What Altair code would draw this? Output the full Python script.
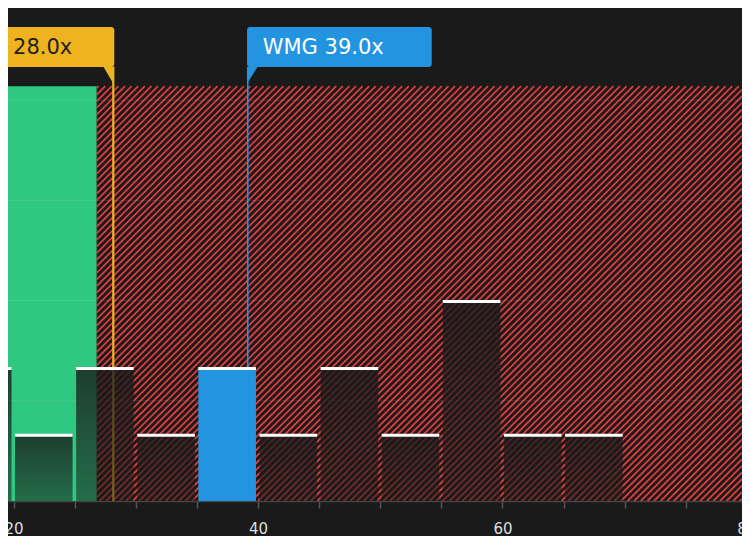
import altair as alt
import pandas as pd

# ---------------- data ----------------
bin_start = [15, 20, 25, 30, 35, 40, 45, 50, 55, 60, 65]
bin_end = [20, 25, 30, 35, 40, 45, 50, 55, 60, 65, 70]
counts = [2, 1, 2, 1, 2, 1, 2, 1, 3, 1, 1]
highlight_bin = 35

region_start = [0.0, 26.8]
region_end = [26.8, 79.6]
region_kind = ["fair", "over"]
region_top = 6.21

grid_values = [1.5, 3.0, 4.5, 6.0]
x_tick_values = [20, 25, 30, 35, 40, 45, 50, 55, 60, 65, 70, 75]
x_edge_label = [80]

marker_names = ["Industry Avg.", "WMG"]
marker_values = [28.0, 39.0]
marker_text = ["Industry Avg. 28.0x", "WMG 39.0x"]

# ---------------- styling ----------------
BG = "#1a1a1a"
GREEN = "#2ec880"
RED = "#dc3d3d"
ORANGE = "#efb31f"
BLUE = "#2394e0"
FONT = "DejaVu Sans"

W, H = 734, 493
X_DOMAIN = [19.55, 79.6]
Y_DOMAIN = [0, 7.38]

xs = alt.Scale(domain=X_DOMAIN, nice=False, zero=False)
ys = alt.Scale(domain=Y_DOMAIN, nice=False, zero=True)
xaxis = alt.Axis(
    values=x_tick_values,
    labelExpr="datum.value % 20 == 0 ? datum.label : ''",
    title=None, grid=False, domainColor="#444444", domainWidth=1.5,
    tickColor="#555555", tickSize=7, tickWidth=1.5, labelPadding=13,
    labelColor="#dddddd", labelFontSize=15, labelFont=FONT,
    labelOverlap=False, labelFlush=False,
)


def X(field):
    return alt.X(field, scale=xs, axis=xaxis, title=None)


def Y(field):
    return alt.Y(field, scale=ys, axis=None, title=None)


# diagonal hatch strokes over the "overvalued" region (decoration, 45 degrees on screen)
px_x = W / (X_DOMAIN[1] - X_DOMAIN[0])
px_y = H / (Y_DOMAIN[1] - Y_DOMAIN[0])
hx0, hx1 = region_start[1], region_end[1]
hw = (hx1 - hx0) * px_x
hh = region_top * px_y
period = 6.6
rows = []
c = 2.0
while c < hw + hh:
    v_a = max(0.0, c - hw)   # top / right end
    u_a = c - v_a
    u_b = max(0.0, c - hh)   # bottom / left end
    v_b = c - u_b
    rows.append({
        "xa": hx0 + u_a / px_x, "ya": region_top - v_a / px_y,
        "xb": hx0 + u_b / px_x, "yb": region_top - v_b / px_y,
    })
    c += period
hatch = pd.DataFrame(rows)

bar_fill = {
    "gradient": "linear", "x1": 0, "y1": 0, "x2": 0, "y2": 1,
    "stops": [
        {"offset": 0, "color": "rgba(26,26,26,0.80)"},
        {"offset": 1, "color": "rgba(26,26,26,0.52)"},
    ],
}

# ---------------- tables ----------------
regions = pd.DataFrame({"start": region_start, "end": region_end,
                        "kind": region_kind, "top": [region_top] * 2})
bars = pd.DataFrame({"start": bin_start, "end": bin_end, "count": counts})
bars["hl"] = bars["start"] == highlight_bin
grid = pd.DataFrame({"g": grid_values})
markers = pd.DataFrame({"name": marker_names, "v": marker_values, "label": marker_text})
edge = pd.DataFrame({"v": x_edge_label})

mcolor = alt.Color("name:N", scale=alt.Scale(domain=marker_names, range=[ORANGE, BLUE]), legend=None)

green = alt.Chart(regions).transform_filter("datum.kind == 'fair'").mark_rect(
    fill=GREEN, clip=True
).encode(x=X("start:Q"), x2="end", y=Y("top:Q"), y2=alt.datum(0))

red = alt.Chart(hatch).mark_rule(color=RED, strokeWidth=1.8, clip=True).encode(
    x=X("xa:Q"), x2="xb", y=Y("ya:Q"), y2="yb"
)

gridlines = alt.Chart(grid).mark_rule(color="#ffffff", opacity=0.1, strokeWidth=1).encode(y=Y("g:Q"))

vlines = alt.Chart(markers).mark_rule(xOffset=2, clip=True).encode(
    x=X("v:Q"), y=alt.value(59), y2=alt.value(H), color=mcolor,
    strokeWidth=alt.StrokeWidth("name:N", scale=alt.Scale(domain=marker_names, range=[2.2, 1.6]), legend=None),
)

dark_bars = alt.Chart(bars).transform_filter("!datum.hl").mark_rect(
    fill=bar_fill, xOffset=1.5, x2Offset=-2, clip=True
).encode(x=X("start:Q"), x2="end", y=Y("count:Q"), y2=alt.datum(0))

blue_bar = alt.Chart(bars).transform_filter("datum.hl").mark_rect(
    fill=BLUE, xOffset=1.5, x2Offset=-2, clip=True
).encode(x=X("start:Q"), x2="end", y=Y("count:Q"), y2=alt.datum(0))

caps = alt.Chart(bars).mark_rule(
    color="#ffffff", strokeWidth=3, xOffset=1.5, x2Offset=-2, yOffset=1, clip=True
).encode(x=X("start:Q"), x2="end", y=Y("count:Q"))

orange_box = alt.Chart(markers).transform_filter("datum.name == 'Industry Avg.'").mark_rect(
    cornerRadius=3, xOffset=-320, x2Offset=3, clip=True
).encode(x=X("v:Q"), x2="v", y=alt.value(19), y2=alt.value(59), color=mcolor)

blue_box = alt.Chart(markers).transform_filter("datum.name == 'WMG'").mark_rect(
    cornerRadius=3, xOffset=1.3, x2Offset=186, clip=True
).encode(x=X("v:Q"), x2="v", y=alt.value(19), y2=alt.value(59), color=mcolor)

orange_ptr = alt.Chart(markers).transform_filter("datum.name == 'Industry Avg.'").mark_point(
    shape="M-10,0 L1,0 L0,17 Z", size=4, filled=True, opacity=1, strokeWidth=0, xOffset=2
).encode(x=X("v:Q"), y=alt.value(58.5), color=mcolor)

blue_ptr = alt.Chart(markers).transform_filter("datum.name == 'WMG'").mark_point(
    shape="M-0.5,0 L10,0 L0,16 Z", size=4, filled=True, opacity=1, strokeWidth=0, xOffset=2
).encode(x=X("v:Q"), y=alt.value(58.5), color=mcolor)

orange_txt = alt.Chart(markers).transform_filter("datum.name == 'Industry Avg.'").mark_text(
    align="right", baseline="alphabetic", dx=-39, font=FONT, fontSize=21, color="#1f1f1f", clip=True
).encode(x=X("v:Q"), y=alt.value(46.3), text="label:N")

blue_txt = alt.Chart(markers).transform_filter("datum.name == 'WMG'").mark_text(
    align="left", baseline="alphabetic", dx=17, font=FONT, fontSize=21, color="#ffffff"
).encode(x=X("v:Q"), y=alt.value(46.3), text="label:N")

edge_lbl = alt.Chart(edge).mark_text(
    align="center", baseline="top", font=FONT, fontSize=15, color="#dddddd"
).encode(x=X("v:Q"), y=alt.value(H + 20.5), text=alt.Text("v:Q"))

chart = alt.layer(
    green, red, gridlines, vlines, dark_bars, blue_bar, caps,
    orange_box, blue_box, orange_ptr, blue_ptr, orange_txt, blue_txt, edge_lbl,
).properties(
    width=W, height=H,
    autosize=alt.AutoSizeParams(type="none"),
    padding={"left": 0, "right": 0, "top": 0, "bottom": 35},
    background=BG,
).configure_view(stroke=None)

chart.save("out.html", embed_options={"renderer": "svg", "actions": False})
